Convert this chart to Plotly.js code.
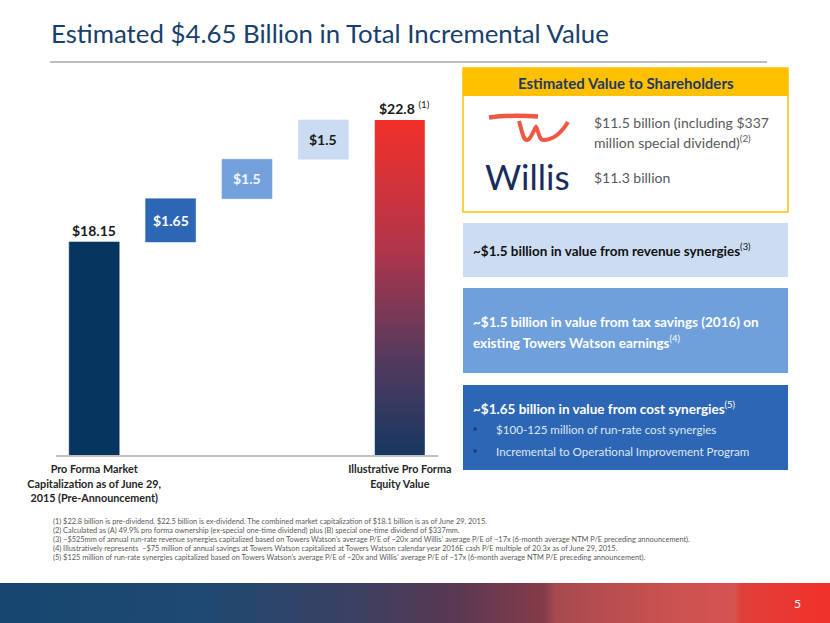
<!DOCTYPE html>
<html>
<head>
<meta charset="utf-8">
<script src="https://cdn.plot.ly/plotly-3.0.1.min.js"></script>
<style>html,body{margin:0;padding:0;background:#fff;}#chart{width:830px;height:623px;}</style>
</head>
<body>
<div id="chart"></div>
<script>
// ---------- data ----------
const categories = ['Pro Forma Market Cap', 'Cost synergies', 'Tax savings', 'Revenue synergies', 'Illustrative Pro Forma Equity Value'];
const startValue = 18.15;
const stepValues = [1.65, 1.5, 1.5];
const endValue = 22.8;
const valueLabels = ['$18.15', '$1.65', '$1.5', '$1.5', '$22.8'];
const tickLabels = ['Pro Forma Market<br>Capitalization as of June 29,<br>2015 (Pre-Announcement)', 'Illustrative Pro Forma<br>Equity Value'];
const barColors = ['#06355F', '#2C66B4', '#72A1DC', '#CBDCF2'];
const labelColors = ['#1a1a1a', '#ffffff', '#f2f6fc', '#1a1a1a'];
const footnotes = [
  '(1) $22.8 billion is pre-dividend. $22.5 billion is ex-dividend. The combined market capitalization of $18.1 billion is as of June 29, 2015.',
  '(2) Calculated as (A) 49.9% pro forma ownership (ex-special one-time dividend) plus (B) special one-time dividend of $337mm.',
  '(3) ~$525mm of annual run-rate revenue synergies capitalized based on Towers Watson\u2019s average P/E of ~20x and Willis\u2019 average P/E of ~17x (6-month average NTM P/E preceding announcement).',
  '(4) Illustratively represents  ~$75 million of annual savings at Towers Watson capitalized at Towers Watson calendar year 2016E cash P/E multiple of 20.3x as of June 29, 2015.',
  '(5) $125 million of run-rate synergies capitalized based on Towers Watson\u2019s average P/E of ~20x and Willis\u2019 average P/E of ~17x (6-month average NTM P/E preceding announcement).'
];

// ---------- derived waterfall ----------
const barX = [0], barY = [startValue], barBase = [0];
let run = startValue;
stepValues.forEach((v, i) => { barX.push(i + 1); barY.push(v); barBase.push(run); run += v; });
const totalX = categories.length - 1;
const W = 0.655;
const yMin = 10.03, yMax = 23.56;

const font = 'Lato, "Open Sans", sans-serif';

const traces = [];
traces.push({
  type: 'bar', x: barX, y: barY, base: barBase, width: W,
  marker: {color: barColors, line: {color: barColors, width: 0.5}},
  hoverinfo: 'skip', showlegend: false, xaxis: 'x', yaxis: 'y'
});
// gradient total bar
traces.push({
  type: 'scatter', mode: 'lines',
  x: [totalX - W/2, totalX + W/2, totalX + W/2, totalX - W/2, totalX - W/2],
  y: [yMin, yMin, endValue, endValue, yMin],
  fill: 'toself', line: {width: 0, color: 'rgba(0,0,0,0)'},
  fillgradient: {type: 'vertical', colorscale: [[0, '#163861'], [0.3, '#573a5d'], [0.62, '#b2354a'], [1, '#f2302a']]},
  hoverinfo: 'skip', showlegend: false, xaxis: 'x', yaxis: 'y'
});
// bottom gradient band (pixel-space overlay)
traces.push({
  type: 'scatter', mode: 'lines',
  x: [0, 830, 830, 0, 0], y: [583, 583, 623, 623, 583],
  fill: 'toself', line: {width: 0, color: 'rgba(0,0,0,0)'},
  fillgradient: {type: 'horizontal', colorscale: [[0, '#15466f'], [0.25, '#1f4971'], [0.42, '#3a4163'], [0.55, '#5a3852'], [0.655, '#853b4a'], [0.67, '#a64a50'], [0.8, '#c9514f'], [0.885, '#d65452'], [0.893, '#e0403a'], [1, '#f2302a']]},
  hoverinfo: 'skip', showlegend: false, xaxis: 'x2', yaxis: 'y2'
});

// ---------- annotations ----------
const ann = [];
function px(x, y, text, opts) {
  return Object.assign({xref: 'x2', yref: 'y2', x: x, y: y, text: text, showarrow: false,
    xanchor: 'left', yanchor: 'middle', font: {family: font, size: 13, color: '#333'}}, opts || {});
}
// chart value labels
ann.push({xref: 'x', yref: 'y', x: 0, y: startValue, text: '<b>' + valueLabels[0] + '</b>', showarrow: false,
  yanchor: 'bottom', yshift: 1, font: {family: font, size: 14, color: labelColors[0]}});
for (let i = 1; i < barX.length; i++) {
  ann.push({xref: 'x', yref: 'y', x: barX[i], y: barBase[i] + barY[i] / 2, text: '<b>' + valueLabels[i] + '</b>',
    showarrow: false, font: {family: font, size: 14, color: labelColors[i]}});
}
ann.push({xref: 'x', yref: 'y', x: totalX, y: endValue, text: '<b>' + valueLabels[4] + '</b> <sup>(1)</sup>', showarrow: false,
  yanchor: 'bottom', yshift: 1, xshift: 5, font: {family: font, size: 14, color: '#1a1a1a'}});

// title
ann.push(px(49, 33, 'Estimated $4.65 Billion in Total Incremental Value', {font: {family: font, size: 25.8, color: '#17406D'}}));
// yellow box
ann.push(px(626, 83, '<b>Estimated Value to Shareholders</b>', {xanchor: 'center', font: {family: font, size: 15, color: '#1F3864'}}));
ann.push(px(592, 122, '$11.5 billion (including $337', {font: {family: font, size: 14, color: '#595959'}}));
ann.push(px(592, 141, 'million special dividend)<sup>(2)</sup>', {font: {family: font, size: 14, color: '#595959'}}));
ann.push(px(592, 177, '$11.3 billion', {font: {family: font, size: 14, color: '#595959'}}));
ann.push(px(483, 176, 'Willis', {font: {family: font, size: 35, color: '#1B2C5C'}}));
// boxes
ann.push(px(471, 250, '<b>~$1.5 billion in value from revenue synergies</b><sup>(3)</sup>', {font: {family: font, size: 13.5, color: '#111'}}));
ann.push(px(471, 322, '<b>~$1.5 billion in value from tax savings (2016) on</b>', {font: {family: font, size: 13.5, color: '#fff'}}));
ann.push(px(471, 342, '<b>existing Towers Watson earnings</b><sup>(4)</sup>', {font: {family: font, size: 13.5, color: '#fff'}}));
ann.push(px(471, 408, '<b>~$1.65 billion in value from cost synergies</b><sup>(5)</sup>', {font: {family: font, size: 13.5, color: '#fff'}}));
ann.push(px(494, 429, '$100-125 million of run-rate cost synergies', {font: {family: font, size: 11.6, color: '#dfe8f5'}}));
ann.push(px(494, 451, 'Incremental to Operational Improvement Program', {font: {family: font, size: 11.6, color: '#dfe8f5'}}));
// footnotes
footnotes.forEach((t, i) => ann.push(px(51, 521 + i * 9, t, {font: {family: font, size: 7.4, color: '#595959'}})));
// page number
ann.push(px(797, 603, '5', {xanchor: 'center', font: {family: font, size: 12, color: '#fff'}}));

// ---------- shapes (pixel space) ----------
function rect(x0, y0, x1, y1, fill, line) {
  return {type: 'rect', xref: 'x2', yref: 'y2', x0: x0, y0: y0, x1: x1, y1: y1,
    fillcolor: fill, line: line || {width: 0}, layer: 'below'};
}
const shapes = [
  {type: 'line', xref: 'x2', yref: 'y2', x0: 50, x1: 767, y0: 62, y1: 62, line: {color: '#a6a6a6', width: 1.5}},
  rect(463, 68, 788, 212, '#ffffff', {color: '#FFC000', width: 1.5}),
  rect(463, 68, 788, 96, '#FFC000'),
  rect(463, 223, 788, 277, '#CCDDF3'),
  rect(463, 288, 788, 373, '#6FA0DC'),
  rect(463, 385, 788, 470, '#2C66B4'),
  rect(473.5, 427.5, 476.5, 430.5, '#1F3864'),
  rect(473.5, 449.5, 476.5, 452.5, '#1F3864'),
  {type: 'path', xref: 'x2', yref: 'y2', path: 'M 489 117.5 Q 512 114.5 538 116.5', line: {color: '#EF5842', width: 4.5}},
  {type: 'path', xref: 'x2', yref: 'y2', path: 'M 519 121 C 522 131, 523 140, 527 140 C 531 140, 534 129, 536 127 C 538 129, 539 140, 543 140 C 553 140, 562 132, 568 122', line: {color: '#EF5842', width: 4}}
];

const layout = {
  width: 830, height: 623,
  margin: {l: 0, r: 0, t: 0, b: 0},
  paper_bgcolor: '#ffffff', plot_bgcolor: 'rgba(0,0,0,0)',
  showlegend: false, bargap: 0,
  xaxis: {domain: [56/830, 438/830], range: [-0.5, 4.5], showgrid: false, zeroline: false,
    showline: true, linecolor: '#bfbfbf', linewidth: 1.5, ticks: '', ticklabelstandoff: 4,
    tickmode: 'array', tickvals: [0, totalX], ticktext: tickLabels,
    tickfont: {family: font, size: 10.8, color: '#262626', weight: 'bold'}, fixedrange: true},
  yaxis: {domain: [1 - 455/623, 1 - 100/623], range: [yMin, yMax], visible: false, fixedrange: true},
  xaxis2: {domain: [0, 1], range: [0, 830], visible: false, fixedrange: true, anchor: 'y2'},
  yaxis2: {domain: [0, 1], range: [623, 0], visible: false, fixedrange: true, anchor: 'x2'},
  annotations: ann, shapes: shapes
};

Plotly.newPlot('chart', traces, layout, {displayModeBar: false, staticPlot: true});
</script>
</body>
</html>
